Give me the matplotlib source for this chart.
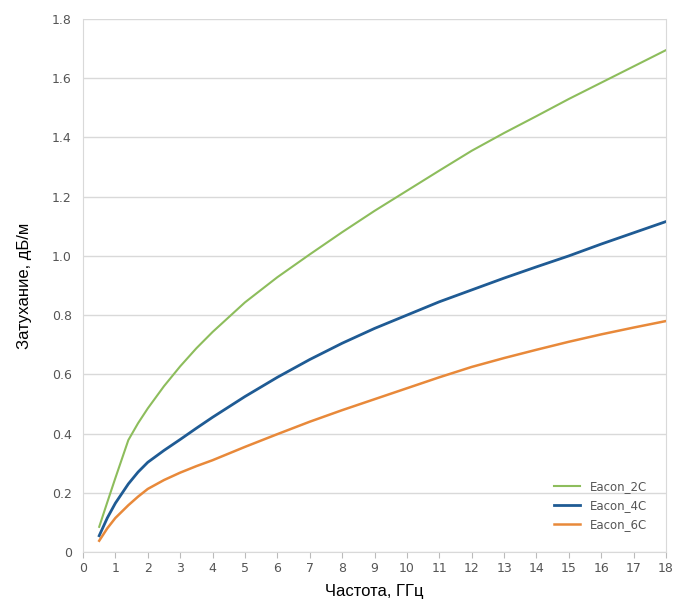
import matplotlib
matplotlib.use("Agg")
import matplotlib.pyplot as plt

# Frequency, GHz
freq = [0.5, 0.75, 1, 1.4, 1.7, 2, 2.5, 3, 3.5, 4, 5, 6, 7, 8, 9, 10,
        11, 12, 13, 14, 15, 16, 17, 18]

# Attenuation, dB/m
eacon_2c = [0.085, 0.168, 0.25, 0.378, 0.435, 0.485, 0.56, 0.627, 0.688, 0.743, 0.843, 0.928,
            1.005, 1.08, 1.152, 1.22, 1.288, 1.355, 1.415, 1.472, 1.53, 1.585, 1.64, 1.695]
eacon_4c = [0.055, 0.115, 0.165, 0.23, 0.27, 0.303, 0.343, 0.38, 0.418, 0.455, 0.525, 0.59,
            0.65, 0.705, 0.755, 0.80, 0.845, 0.885, 0.925, 0.963, 1.0, 1.04, 1.078, 1.116]
eacon_6c = [0.038, 0.08, 0.115, 0.158, 0.187, 0.213, 0.243, 0.268, 0.29, 0.31, 0.355, 0.398,
            0.44, 0.479, 0.516, 0.553, 0.59, 0.625, 0.655, 0.683, 0.71, 0.735, 0.758, 0.78]

series = [
    ('Eacon_2C', eacon_2c, '#8dbd5c', 1.5),
    ('Eacon_4C', eacon_4c, '#1f5b94', 2.0),
    ('Eacon_6C', eacon_6c, '#e8893a', 1.8),
]

fig = plt.figure(figsize=(6.77, 6.13), dpi=100)
ax = fig.add_axes([0.1226, 0.0995, 0.8612, 0.8695])

for name, vals, color, lw in series:
    ax.plot(freq, vals, color=color, lw=lw, label=name)

ax.set_xlim(0, 18)
ax.set_ylim(0, 1.8)
ax.set_xticks(range(0, 19))
ax.set_yticks([0, 0.2, 0.4, 0.6, 0.8, 1.0, 1.2, 1.4, 1.6, 1.8])
ax.set_yticklabels(['0', '0.2', '0.4', '0.6', '0.8', '1.0', '1.2', '1.4', '1.6', '1.8'])
ax.grid(axis='y', color='#d9d9d9', lw=1)
ax.set_axisbelow(True)

for side in ['left', 'right', 'bottom', 'top']:
    ax.spines[side].set_color('#d9d9d9')
ax.spines['top'].set_visible(False)

ax.tick_params(axis='x', colors='#bbbbbb', length=4, labelcolor='#555555', labelsize=9)
ax.tick_params(axis='y', length=0, labelcolor='#555555', labelsize=9, pad=8)

ax.set_xlabel('Частота, ГГц', family='Liberation Sans', fontsize=12, labelpad=6)
ax.set_ylabel('Затухание, дБ/м', family='Liberation Sans', fontsize=12, labelpad=14)

leg = ax.legend(loc='lower right', bbox_to_anchor=(0.985, 0.02), frameon=False,
                fontsize=8.5, handlelength=2.2, labelspacing=0.5)
for t in leg.get_texts():
    t.set_color('#555555')

fig.savefig('out.png', dpi=100)
